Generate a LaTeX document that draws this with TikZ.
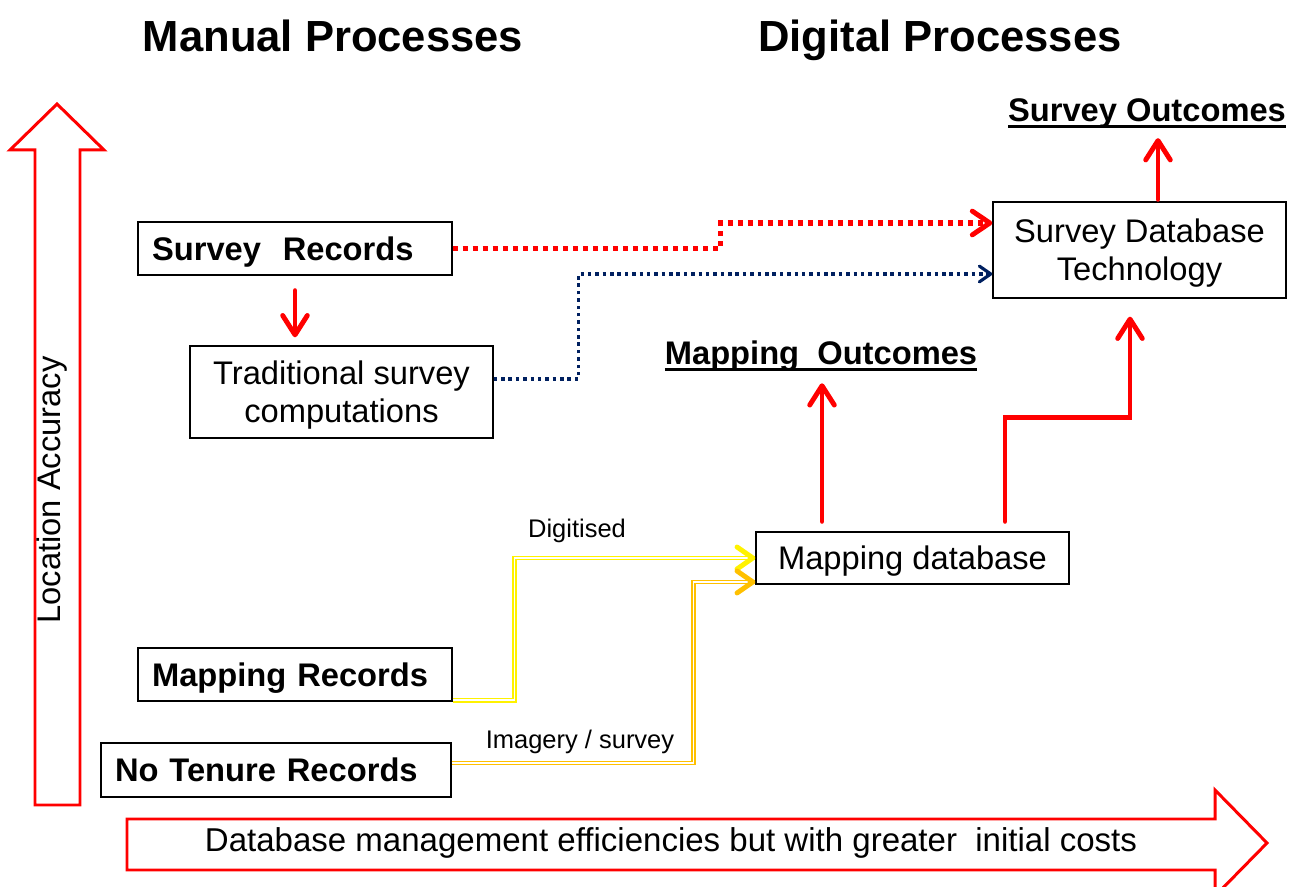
\documentclass[tikz,border=0pt]{standalone}
\usepackage{fontspec}
\setmainfont{Liberation Sans}
\usetikzlibrary{arrows.meta, positioning}

\definecolor{navyline}{RGB}{0,32,96}
\definecolor{goldline}{RGB}{255,192,0}

\newcommand{\boxsize}{\fontsize{18.6pt}{21.5pt}\selectfont}
\newcommand{\titlesize}{\fontsize{24.8pt}{28pt}\selectfont\bfseries}
\newcommand{\labelsize}{\fontsize{14.5pt}{17pt}\selectfont}
\newcommand{\thickul}[1]{\setbox0\hbox{#1}\rlap{\rule[-3.6pt]{\wd0}{1.9pt}}\box0}

\begin{document}
\begin{tikzpicture}[
	x=0.02cm,
	y=0.02cm,
	every box/.style={draw, line width=0.8pt, font=\boxsize, inner sep=0pt, text depth=0pt},
	left box/.style={every box, align=left, text width=#1, inner xsep=0.28cm},
	centre box/.style={every box, align=center, minimum width=#1},
	bold box/.style={font=\boxsize\bfseries},
	title/.style={font=\titlesize, anchor=base, inner sep=0pt},
	outcome/.style={font=\boxsize\bfseries, anchor=base, inner sep=0pt},
	flow label/.style={font=\labelsize, inner sep=0pt},
	hollow arrow/.style={draw=red, line width=1.7pt, miter limit=10},
	red arrow/.style={draw=red, line width=2.8pt, line cap=round, -{Straight Barb[length=11pt, width=14pt, round]}},
	red dots/.style={draw=red, line width=2.9pt, dash pattern=on 2.9pt off 2.8pt, -{Straight Barb[length=10pt, width=13.5pt, line width=2.8pt, round]}},
	navy dots/.style={draw=navyline, line width=2pt, dash pattern=on 2pt off 2.2pt, -{Straight Barb[length=6.5pt, width=9pt, line width=1.8pt, round]}},
	yellow pipe/.style={draw=yellow, double=white, line width=0.95pt, double distance=0.9pt},
	gold pipe/.style={draw=goldline, double=white, line width=0.95pt, double distance=0.9pt},
	pipe head/.style={line width=2.8pt, -{Straight Barb[length=9pt, width=12.5pt, round]}}
]

\useasboundingbox (0,0) rectangle (1298,886);

\draw[hollow arrow] (35,81) -- (35,736) -- (10,736) -- (57,782) -- (104,736) -- (80,736) -- (80,81) -- cycle;
\draw[hollow arrow] (127,67) -- (1215,67) -- (1215,96) -- (1267,43) -- (1215,-10) -- (1215,16) -- (127,16) -- cycle;

\node[font=\boxsize, rotate=90] (accuracy) at (52,396) {Location Accuracy};
\node[font=\fontsize{18.8pt}{22pt}\selectfont] (efficiency) at (671,43) {Database management efficiencies but with greater~~initial costs};

\node[title] (manual) at (333,834) {Manual Processes};
\node[title] (digital) at (940,834) {Digital Processes};

\node[left box=5.72cm, bold box, minimum height=1.06cm] (srec) at (295,637.5) {Survey\ \ Records};
\node[centre box=6.06cm, minimum height=1.84cm] (trad) at (341.5,494) {Traditional survey\\computations};
\node[left box=5.72cm, bold box, minimum height=1.06cm] (mrec) at (295,211.5) {Mapping Records};
\node[left box=6.44cm, bold box, minimum height=1.08cm] (ntr) at (276,116) {No Tenure Records};

\node[centre box=5.86cm, minimum height=1.92cm] (sdb) at (1139.5,636) {Survey Database\\Technology};
\node[centre box=6.26cm, minimum height=1.04cm] (mdb) at (912.5,328) {Mapping database};

\node[outcome] (sout) at (1147,764) {\thickul{Survey Outcomes}};
\node[outcome] (mout) at (821,521) {\thickul{Mapping\ \ Outcomes}};

\node[flow label] (digitised) at (577,355) {Digitised};
\node[flow label] (imagery) at (580,144) {Imagery / survey};

\draw[red arrow, shorten <=0.3cm, shorten >=0.16cm] (srec.south) -- (srec.south |- trad.north);
\draw[red dots] (srec.east) -- ++(268,0) |- ([yshift=0.54cm]sdb.west);
\draw[navy dots] ([yshift=0.26cm]trad.east) -- ++(85,0) |- ([yshift=-0.48cm]sdb.west);

\draw[red arrow, shorten <=0.2cm, shorten >=0.22cm] ([xshift=-1.81cm]mdb.north) -- ([xshift=-1.81cm]mdb.north |- mout.south);
\draw[red arrow, shorten <=0.2cm, shorten >=0.36cm] ([xshift=1.85cm]mdb.north) -- ++(0,114) -| ([xshift=-0.19cm]sdb.south);
\draw[red arrow, shorten <=0.04cm, shorten >=0.18cm] ([xshift=0.37cm]sdb.north) -- ([xshift=0.37cm]sdb.north |- sout.south);

\draw[yellow pipe] ([yshift=0.03cm]mrec.south east) -- ++(62,0) |- (mdb.west);
\draw[pipe head, yellow] ([xshift=-0.01cm]mdb.west) -- (mdb.west);
\draw[gold pipe] ([yshift=0.14cm]ntr.east) -- ++(242,0) |- ([yshift=-0.48cm]mdb.west);
\draw[pipe head, goldline] ([xshift=-0.01cm, yshift=-0.48cm]mdb.west) -- ([yshift=-0.48cm]mdb.west);

\end{tikzpicture}
\end{document}
